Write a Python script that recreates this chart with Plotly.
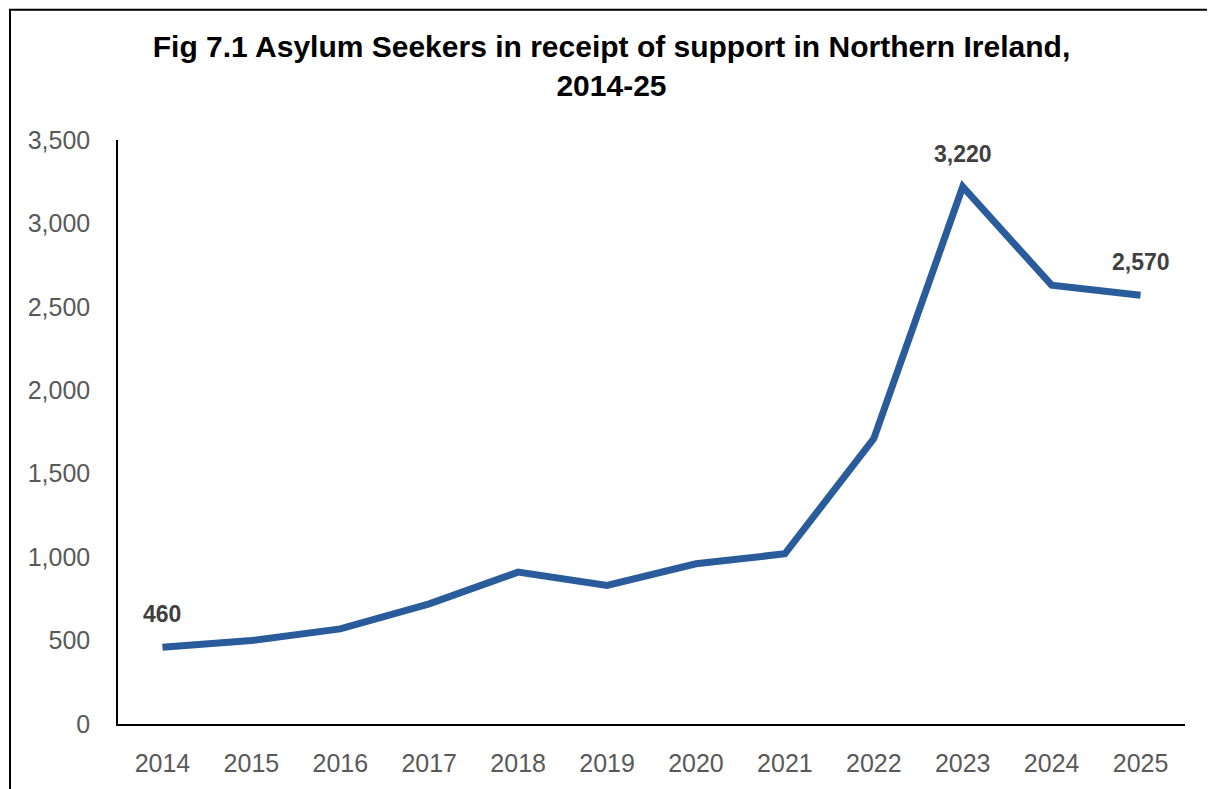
import plotly.graph_objects as go

years = ["2014", "2015", "2016", "2017", "2018", "2019", "2020", "2021", "2022", "2023", "2024", "2025"]
supported = [460, 500, 570, 720, 910, 830, 960, 1020, 1710, 3220, 2630, 2570]
labelled_years = ["2014", "2023", "2025"]
y_ticks = [0, 500, 1000, 1500, 2000, 2500, 3000, 3500]
title_text = "Fig 7.1 Asylum Seekers in receipt of support in Northern Ireland,<br>2014-25"

# page body has an 8px margin, so the figure is sized/offset accordingly
W, H = 1207, 781
L, R, T, B = 110, 30, 132, 62
pw = W - L - R
ph = H - T - B

fig = go.Figure()
fig.add_trace(go.Scatter(
    x=years, y=supported, mode="lines",
    line=dict(color="#2A5C9B", width=7),
    hoverinfo="skip", showlegend=False,
))

for i, (yr, v) in enumerate(zip(years, supported)):
    if yr in labelled_years:
        fig.add_annotation(
            x=i, y=v, xref="x", yref="y", text=f"{v:,}", showarrow=False, yshift=33,
            font=dict(family="Liberation Sans, Arial", size=23, color="#404040", weight="bold"),
        )

# outer chart border
fig.add_shape(
    type="rect", xref="paper", yref="paper",
    x0=(2 - L) / pw, x1=(1205 - L) / pw,
    y0=(H - B - 800) / ph, y1=(H - B - 1) / ph,
    line=dict(color="black", width=2), fillcolor="rgba(0,0,0,0)", layer="below",
)

fig.update_layout(
    width=W, height=H,
    margin=dict(l=L, r=R, t=T, b=B),
    paper_bgcolor="white", plot_bgcolor="white",
    title=dict(
        text=title_text, x=0.5, xanchor="center", xref="container",
        y=1 - 49 / H, yanchor="top",
        font=dict(family="Liberation Sans, Arial", size=30, color="black", weight="bold"),
    ),
    xaxis=dict(
        type="category", range=[-0.5, 11.5],
        showline=True, linecolor="black", linewidth=1.5,
        showgrid=False, zeroline=False, ticks="",
        tickfont=dict(family="Liberation Sans, Arial", size=25, color="#595959"),
        ticklabelstandoff=16,
    ),
    yaxis=dict(
        range=[0, 3500], tickvals=y_ticks,
        ticktext=[f"{v:,}" for v in y_ticks],
        showline=True, linecolor="black", linewidth=1.5,
        showgrid=False, zeroline=False, ticks="",
        tickfont=dict(family="Liberation Sans, Arial", size=25, color="#595959"),
        ticklabelstandoff=21,
    ),
)

fig.write_html("out.html")
